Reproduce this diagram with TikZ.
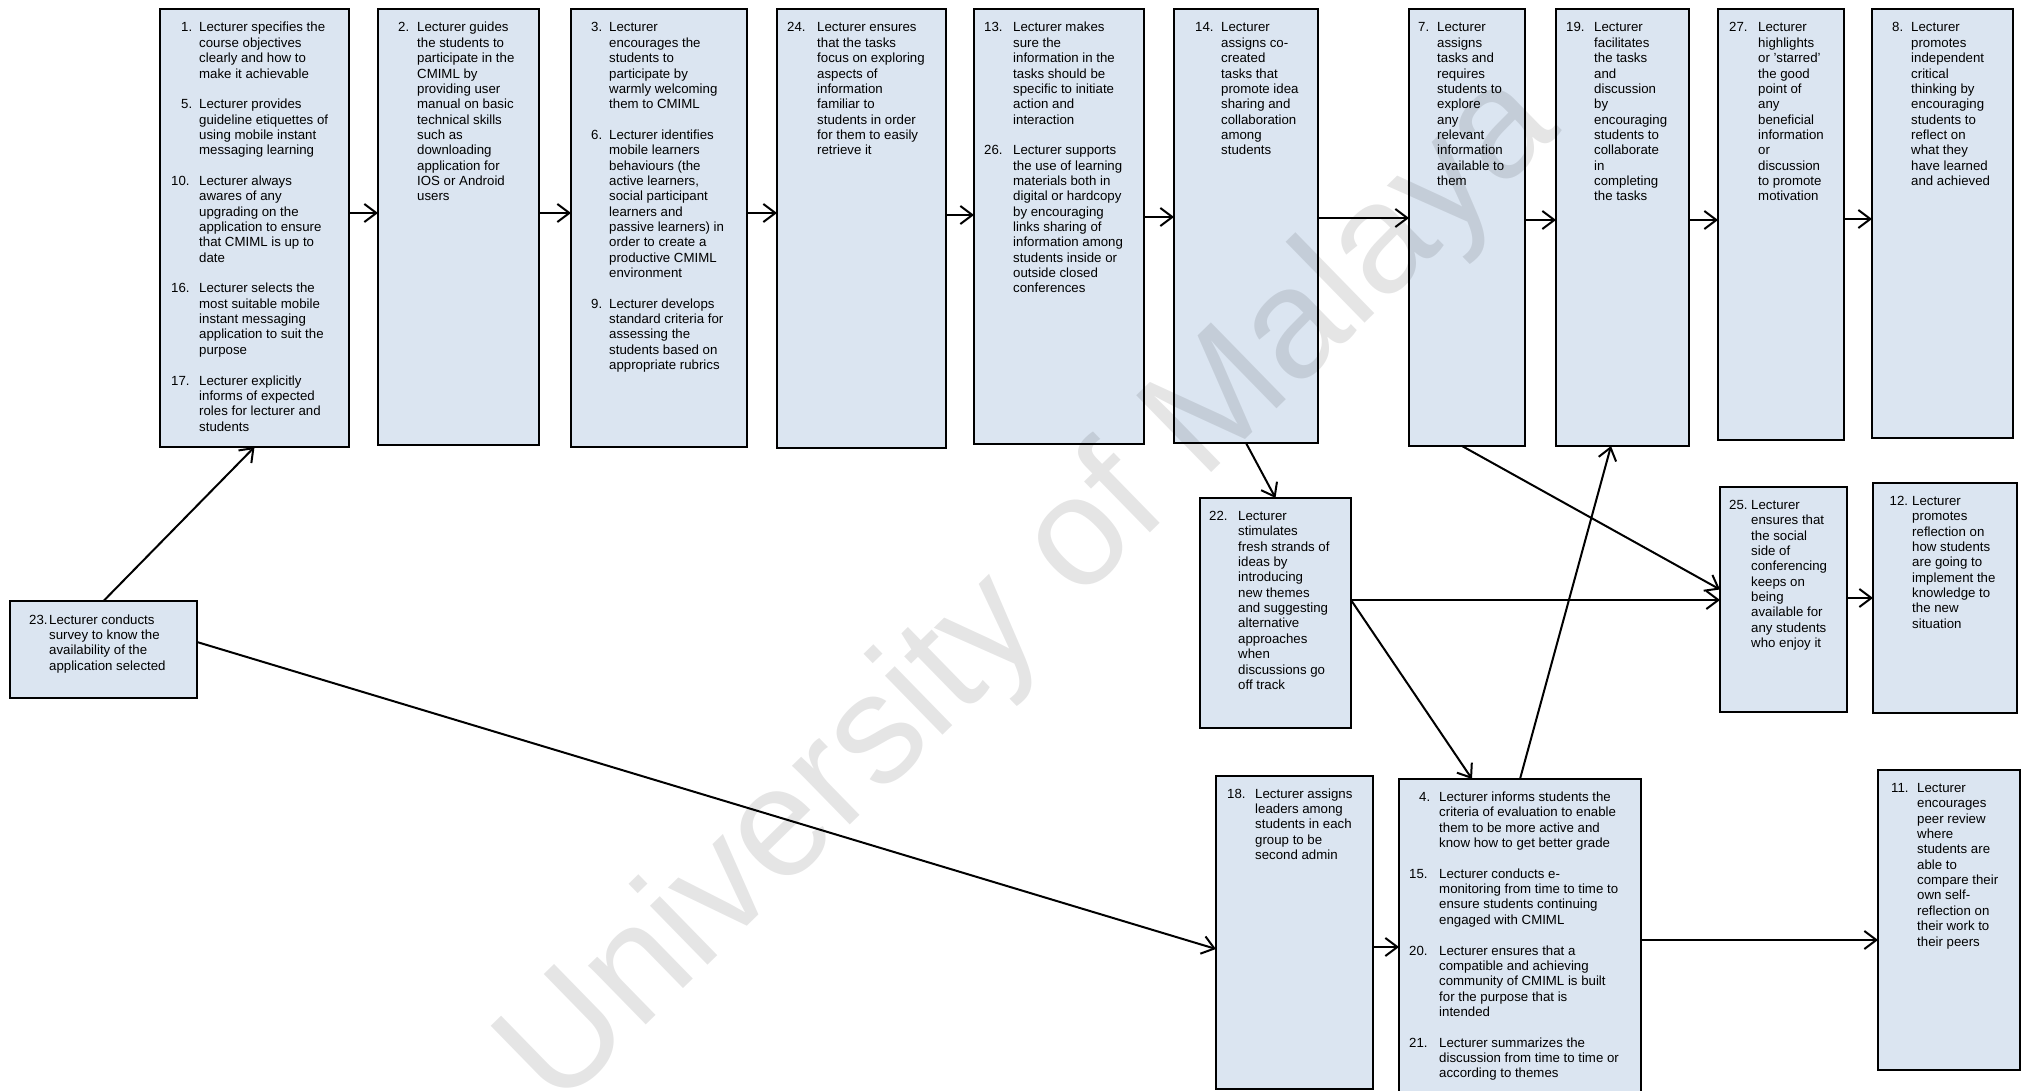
\documentclass[tikz,border=0pt]{standalone}
\usepackage{fontspec}
\setmainfont{Liberation Sans}
\usetikzlibrary{arrows.meta}
\definecolor{boxblue}{HTML}{DBE5F1}

% box: name, left, top, right, bottom (in px, y downwards)
\newcommand\bx[5]{\node[stage, anchor=north west,
  minimum width={(#4-#2)*1pt}, minimum height={(#5-#3)*1pt}] (#1) at (#2,#3) {};}
% text block: name, x of text column, first baseline, lines
\newcommand\tx[4]{\node[txt, anchor=base west] (#1) at (#2,#3)
  {\begin{tabular}[t]{@{}l@{}}#4\end{tabular}};}
% hanging item number
\newcommand\nm[2]{\llap{\makebox[#1pt][l]{#2}}}
\newcommand\gp{\\[15.35pt]}
% horizontal connector from #1 to #2, shifted by #3 from the centre line
\newcommand\hcon[3]{\path ([yshift=#3pt]#1.east) coordinate (hc);
  \draw[arr] (hc) -- (hc -| #2.west);}

\begin{document}
\begin{tikzpicture}[x=1pt,y=-1pt,
  stage/.style={draw=black, line width=1.3pt, fill=boxblue, inner sep=0pt, outer sep=0pt},
  txt/.style={inner sep=0pt, font=\fontsize{13.25}{15.35}\selectfont},
  arr/.style={line width=2pt, -{Straight Barb[length=12pt,width=18pt]}}]

\fill[white] (0,0) rectangle (2022,1091);
\useasboundingbox (0,0) rectangle (2022,1091);

% ---- boxes ----
\bx{b1}{160}{9}{349}{447}
\bx{b2}{378}{9}{539}{445}
\bx{b3}{571}{9}{747}{447}
\bx{b24}{777}{9}{946}{448}
\bx{b13}{974}{9}{1144}{444}
\bx{b14}{1174}{9}{1318}{443}
\bx{b7}{1409}{9}{1525}{446}
\bx{b19}{1556}{9}{1689}{446}
\bx{b27}{1718}{9}{1844}{440}
\bx{b8}{1872}{9}{2013}{438}
\bx{b22}{1200}{498}{1351}{728}
\bx{b18}{1216}{776}{1373}{1089}
\bx{b4}{1399}{779}{1641}{1100}
\bx{b23}{10}{601}{197}{698}
\bx{b25}{1720}{487}{1847}{712}
\bx{b12}{1873}{483}{2017}{713}
\bx{b11}{1878}{770}{2020}{1070}

% ---- texts ----
\tx{t1}{199}{32}{\nm{18}{1.}Lecturer specifies the\\course objectives\\clearly and how to\\make it achievable\gp
\nm{18}{5.}Lecturer provides\\guideline etiquettes of\\using mobile instant\\messaging learning\gp
\nm{28}{10.}Lecturer always\\awares of any\\upgrading on the\\application to ensure\\that CMIML is up to\\date\gp
\nm{28}{16.}Lecturer selects the\\most suitable mobile\\instant messaging\\application to suit the\\purpose\gp
\nm{28}{17.}Lecturer explicitly\\informs of expected\\roles for lecturer and\\students}

\tx{t2}{417}{32}{\nm{19}{2.}Lecturer guides\\the students to\\participate in the\\CMIML by\\providing user\\manual on basic\\technical skills\\such as\\downloading\\application for\\IOS or Android\\users}

\tx{t3}{609}{32}{\nm{18}{3.}Lecturer\\encourages the\\students to\\participate by\\warmly welcoming\\them to CMIML\gp
\nm{18}{6.}Lecturer identifies\\mobile learners\\behaviours (the\\active learners,\\social participant\\learners and\\passive learners) in\\order to create a\\productive CMIML\\environment\gp
\nm{18}{9.}Lecturer develops\\standard criteria for\\assessing the\\students based on\\appropriate rubrics}

\tx{t24}{817}{32}{\nm{30}{24.}Lecturer ensures\\that the tasks\\focus on exploring\\aspects of\\information\\familiar to\\students in order\\for them to easily\\retrieve it}

\tx{t13}{1013}{32}{\nm{29}{13.}Lecturer makes\\sure the\\information in the\\tasks should be\\specific to initiate\\action and\\interaction\gp
\nm{29}{26.}Lecturer supports\\the use of learning\\materials both in\\digital or hardcopy\\by encouraging\\links sharing of\\information among\\students inside or\\outside closed\\conferences}

\tx{t14}{1221}{32}{\nm{26}{14.}Lecturer\\assigns co-\\created\\tasks that\\promote idea\\sharing and\\collaboration\\among\\students}

\tx{t7}{1437}{32}{\nm{19}{7.}Lecturer\\assigns\\tasks and\\requires\\students to\\explore\\any\\relevant\\information\\available to\\them}

\tx{t19}{1594}{32}{\nm{28}{19.}Lecturer\\facilitates\\the tasks\\and\\discussion\\by\\encouraging\\students to\\collaborate\\in\\completing\\the tasks}

\tx{t27}{1758}{32}{\nm{29}{27.}Lecturer\\highlights\\or 'starred'\\the good\\point of\\any\\beneficial\\information\\or\\discussion\\to promote\\motivation}

\tx{t8}{1911}{32}{\nm{19}{8.}Lecturer\\promotes\\independent\\critical\\thinking by\\encouraging\\students to\\reflect on\\what they\\have learned\\and achieved}

\tx{t22}{1238}{520.5}{\nm{29}{22.}Lecturer\\stimulates\\fresh strands of\\ideas by\\introducing\\new themes\\and suggesting\\alternative\\approaches\\when\\discussions go\\off track}

\tx{t18}{1255}{798}{\nm{28}{18.}Lecturer assigns\\leaders among\\students in each\\group to be\\second admin}

\tx{t4}{1439}{801.5}{\nm{20}{4.}Lecturer informs students the\\criteria of evaluation to enable\\them to be more active and\\know how to get better grade\gp
\nm{30}{15.}Lecturer conducts e-\\monitoring from time to time to\\ensure students continuing\\engaged with CMIML\gp
\nm{30}{20.}Lecturer ensures that a\\compatible and achieving\\community of CMIML is built\\for the purpose that is\\intended\gp
\nm{30}{21.}Lecturer summarizes the\\discussion from time to time or\\according to themes}

\tx{t23}{49}{624}{\nm{20}{23.}Lecturer conducts\\survey to know the\\availability of the\\application selected}

\tx{t25}{1751}{509.5}{\nm{22}{25.}Lecturer\\ensures that\\the social\\side of\\conferencing\\keeps on\\being\\available for\\any students\\who enjoy it}

\tx{t12}{1912}{505.5}{\nm{22.5}{12.}Lecturer\\promotes\\reflection on\\how students\\are going to\\implement the\\knowledge to\\the new\\situation}

\tx{t11}{1917}{792.5}{\nm{26}{11.}Lecturer\\encourages\\peer review\\where\\students are\\able to\\compare their\\own self-\\reflection on\\their work to\\their peers}

% ---- connectors: top row ----
\hcon{b1}{b2}{15}
\hcon{b2}{b3}{14}
\hcon{b3}{b24}{15}
\hcon{b24}{b13}{13.5}
\hcon{b13}{b14}{9.5}
\hcon{b14}{b7}{8}
\hcon{b7}{b19}{7.5}
\hcon{b19}{b27}{7.5}
\hcon{b27}{b8}{5.5}

% ---- connectors: lower part ----
\draw[arr] (b23.north) -- (b1.south);
\draw[arr] ([yshift=7.5pt]b23.east) -- ([yshift=-16.5pt]b18.west);
\hcon{b18}{b4}{-14.5}
\draw[arr] (b14.south) -- (b22.north);
\hcon{b22}{b25}{13}
\draw[arr] ([yshift=13pt]b22.east) -- ([xshift=-48pt]b4.north);
\draw[arr] (b4.north) -- ([xshift=-11.5pt]b19.south);
\draw[arr] ([xshift=-5pt]b7.south) -- ([yshift=10pt]b25.west);
\hcon{b25}{b12}{1.5}
\hcon{b4}{b11}{-0.5}

% ---- watermark ----
\node[rotate=44.3, text=black, text opacity=0.1,
  font=\fontsize{156}{156}\selectfont] (wm) at (1032,592) {University of Malaya};
\end{tikzpicture}
\end{document}
